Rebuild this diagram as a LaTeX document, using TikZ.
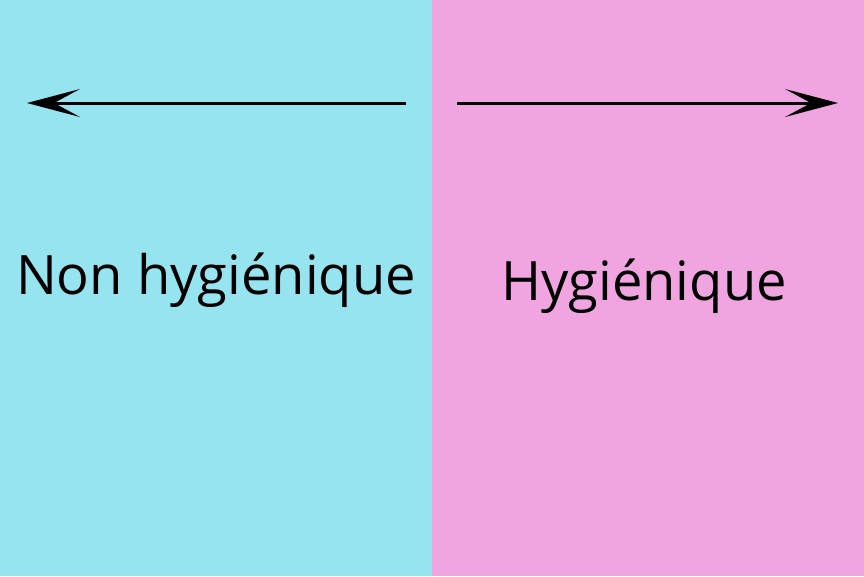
\documentclass[tikz,border=0pt]{standalone}
\usepackage{fontspec}
\setmainfont{Open Sans}
\usetikzlibrary{arrows.meta}
\definecolor{leftcyan}{HTML}{95E4EF}
\definecolor{rightpink}{HTML}{F0A5E1}

\begin{document}
\begin{tikzpicture}[
    x=1pt, y=-1pt,
    label/.style={font=\fontsize{54.3}{60}\selectfont, inner sep=0pt, anchor=base},
    arrow/.style={draw=black, line width=3pt,
                  -{Stealth[length=53pt, width=28pt, inset=26pt]}},
]

% Fonds
\fill[leftcyan]  (0, 0)   rectangle (432, 576);
\fill[rightpink] (432, 0) rectangle (864, 576);
\useasboundingbox (0, 0) rectangle (864, 576);

% Extremites des fleches
\coordinate (lstart) at (406, 103);
\coordinate (lend)   at (27, 103);
\coordinate (rstart) at (457, 103);
\coordinate (rend)   at (838, 103);

% Textes
\node[label] (nonhyg) at (216, 294) {Non hygiénique};
\node[label] (hyg)    at (644, 300) {Hygiénique};

% Fleches
\draw[arrow] (lstart) -- (lend);
\draw[arrow] (rstart) -- (rend);

\end{tikzpicture}
\end{document}
